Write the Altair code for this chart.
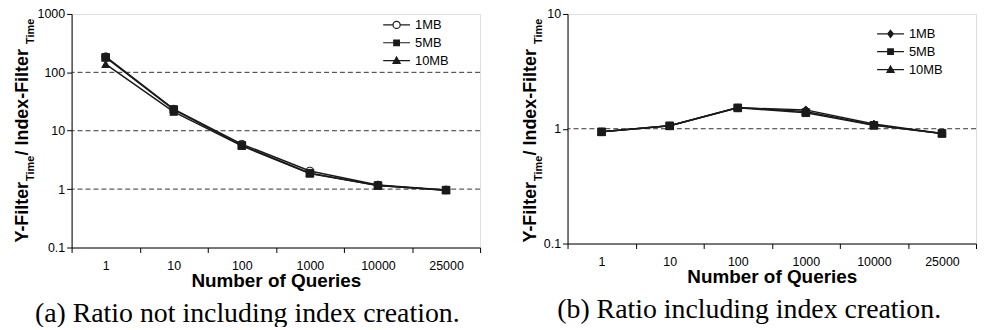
import altair as alt
import pandas as pd

QUERIES = ["1", "10", "100", "1000", "10000", "25000"]
SERIES = ["1MB", "5MB", "10MB"]

A_1MB = [186, 23.5, 5.9, 2.05, 1.18, 0.97]
A_5MB = [180, 23.0, 5.6, 1.87, 1.15, 0.96]
A_10MB = [138, 21.0, 5.5, 1.85, 1.15, 0.96]

B_1MB = [0.94, 1.06, 1.52, 1.46, 1.10, 0.91]
B_5MB = [0.94, 1.06, 1.52, 1.38, 1.07, 0.91]
B_10MB = [0.94, 1.06, 1.53, 1.41, 1.08, 0.91]

A_TICKS = [0.1, 1, 10, 100, 1000]
A_GRID = [1, 10, 100]
B_TICKS = [0.1, 1, 10]
B_GRID = [1]

CAPTION_A = "(a) Ratio not including index creation."
CAPTION_B = "(b) Ratio including index creation."
X_TITLE = "Number of Queries"
Y_TITLE = [("Y-Filter", False), ("Time", True), ("\u00a0/\u00a0Index-Filter", False), ("Time", True)]

FONT = "Liberation Sans"
SERIF = "Liberation Serif"
INK = "#1a1a1a"

# Helvetica-Bold advance widths (1/1000 em) used to lay out the subscripted title
HB = {" ": 278, "\u00a0": 278, "/": 278, "-": 333, "Y": 667, "F": 611, "i": 278, "l": 278,
      "t": 333, "e": 556, "r": 389, "T": 611, "m": 889, "I": 278, "n": 611, "d": 611, "x": 556}


def text_width(s, size):
    return sum(HB.get(c, 556) for c in s) * size / 1000.0


# legend glyphs: a line through a marker (unit = half of sqrt(symbolSize))
LEG_LINE = "M-1.35,0H1.35"
LEG_LINE_GAP = "M-1.35,0H-0.36M0.36,0H1.35"
LEG_CIRCLE = "M-0.36,0A0.36,0.36,0,1,0,0.36,0A0.36,0.36,0,1,0,-0.36,0Z"
LEG_SQUARE = "M-0.28,-0.28H0.28V0.28H-0.28Z"
LEG_TRI = "M0,-0.36L0.36,0.28H-0.36Z"
LEG_DIAMOND = "M0,-0.36L0.28,0L0,0.36L-0.28,0Z"


def panel(values, shapes, fills, leg_shapes, ticks, grid, caption, leg_x, leg_y, title_x,
          title_bottom, width, height):
    df = pd.DataFrame({
        "q": QUERIES * len(SERIES),
        "series": [s for s in SERIES for _ in QUERIES],
        "ratio": [v for vals in values for v in vals],
    })
    ysc = alt.Scale(type="log", domain=[ticks[0], ticks[-1]], nice=False)
    xenc = alt.X("q:N", sort=QUERIES,
                 scale=alt.Scale(type="band", paddingInner=0, paddingOuter=0),
                 axis=alt.Axis(title=X_TITLE, labelAngle=0, tickBand="extent", tickSize=5,
                               tickColor="black", domainColor="black", labelFont=FONT,
                               labelFontSize=12.5, labelColor="black", labelPadding=7,
                               titleFont=FONT, titleFontSize=19, titleFontWeight="bold",
                               titleColor="black", titlePadding=0, grid=False))
    yaxis = alt.Axis(values=ticks, format="~g", title=None, grid=False, tickSize=5,
                     tickColor="black", domainColor="black", labelFont=FONT,
                     labelFontSize=12.5, labelColor="black", labelPadding=2)
    base = alt.Chart(df)
    rules = alt.Chart(pd.DataFrame({"g": grid})).mark_rule(
        strokeDash=[5, 3], color="#333333", strokeWidth=1
    ).encode(y=alt.Y("g:Q", scale=ysc, axis=yaxis))
    lines = base.mark_line(color=INK, strokeWidth=1.5).encode(
        x=xenc, y=alt.Y("ratio:Q", scale=ysc, axis=yaxis), detail="series:N")
    points = base.mark_point(filled=True, opacity=1, stroke=INK, strokeWidth=1, size=60).encode(
        x=xenc, y=alt.Y("ratio:Q", scale=ysc, axis=yaxis),
        shape=alt.Shape("series:N", scale=alt.Scale(domain=SERIES, range=shapes), legend=None),
        fill=alt.Fill("series:N", scale=alt.Scale(domain=SERIES, range=fills), legend=None),
    )
    leg = alt.Legend(title=None, orient="none", legendX=leg_x, legendY=leg_y,
                     symbolSize=400, symbolStrokeWidth=1.2,
                     labelFont=FONT, labelFontSize=13, labelColor="black", labelOffset=7.5,
                     rowPadding=0)
    legend_layer = alt.Chart(df[df.q == QUERIES[0]]).mark_point(
        clip=True, filled=False, opacity=1, strokeWidth=1.2
    ).encode(
        x=alt.value(0), y=alt.value(-200),
        shape=alt.Shape("series:N", scale=alt.Scale(domain=SERIES, range=leg_shapes), legend=leg),
        fill=alt.Fill("series:N", scale=alt.Scale(domain=SERIES, range=fills), legend=leg),
        stroke=alt.Stroke("series:N", scale=alt.Scale(domain=SERIES, range=[INK] * len(SERIES)),
                          legend=leg),
    )
    # subscripted y-axis title
    texts = []
    pos = title_bottom
    for piece, sub in Y_TITLE:
        fs = 11 if sub else 18
        texts.append(
            alt.Chart(pd.DataFrame({"t": [piece]})).mark_text(
                angle=270, align="left", baseline="alphabetic", font=FONT, fontSize=fs,
                fontWeight="bold", color="black"
            ).encode(text="t:N", x=alt.value(title_x + (6 if sub else 0)), y=alt.value(pos))
        )
        pos -= text_width(piece, fs)
    layer = alt.layer(rules, lines, points, legend_layer, *texts).resolve_scale(
        shape="independent", fill="independent", stroke="independent"
    ).properties(
        width=width, height=height,
        title=alt.TitleParams(text=caption, orient="bottom", anchor="middle", frame="bounds",
                              font=SERIF, fontSize=28, fontWeight="normal", color="black",
                              offset=9),
    )
    return layer


left = panel([A_1MB, A_5MB, A_10MB], ["circle", "square", "triangle-up"],
             ["white", INK, INK],
             [LEG_LINE_GAP + LEG_CIRCLE, LEG_LINE + LEG_SQUARE, LEG_LINE + LEG_TRI],
             A_TICKS, A_GRID, CAPTION_A, 316, 0, -44, 230, 411, 235)
right = panel([B_1MB, B_5MB, B_10MB], ["diamond", "square", "triangle-up"],
              [INK, INK, INK],
              [LEG_LINE + LEG_DIAMOND, LEG_LINE + LEG_SQUARE, LEG_LINE + LEG_TRI],
              B_TICKS, B_GRID, CAPTION_B, 314, 9, -32, 230, 411, 231)

chart = alt.hconcat(left, right, spacing=40).properties(
    padding={"left": 5, "top": -2, "right": 0, "bottom": -2}
).configure_view(stroke="#888888", strokeWidth=1).configure(background="white")

chart.save("out.html", embed_options={"renderer": "svg", "actions": False})
